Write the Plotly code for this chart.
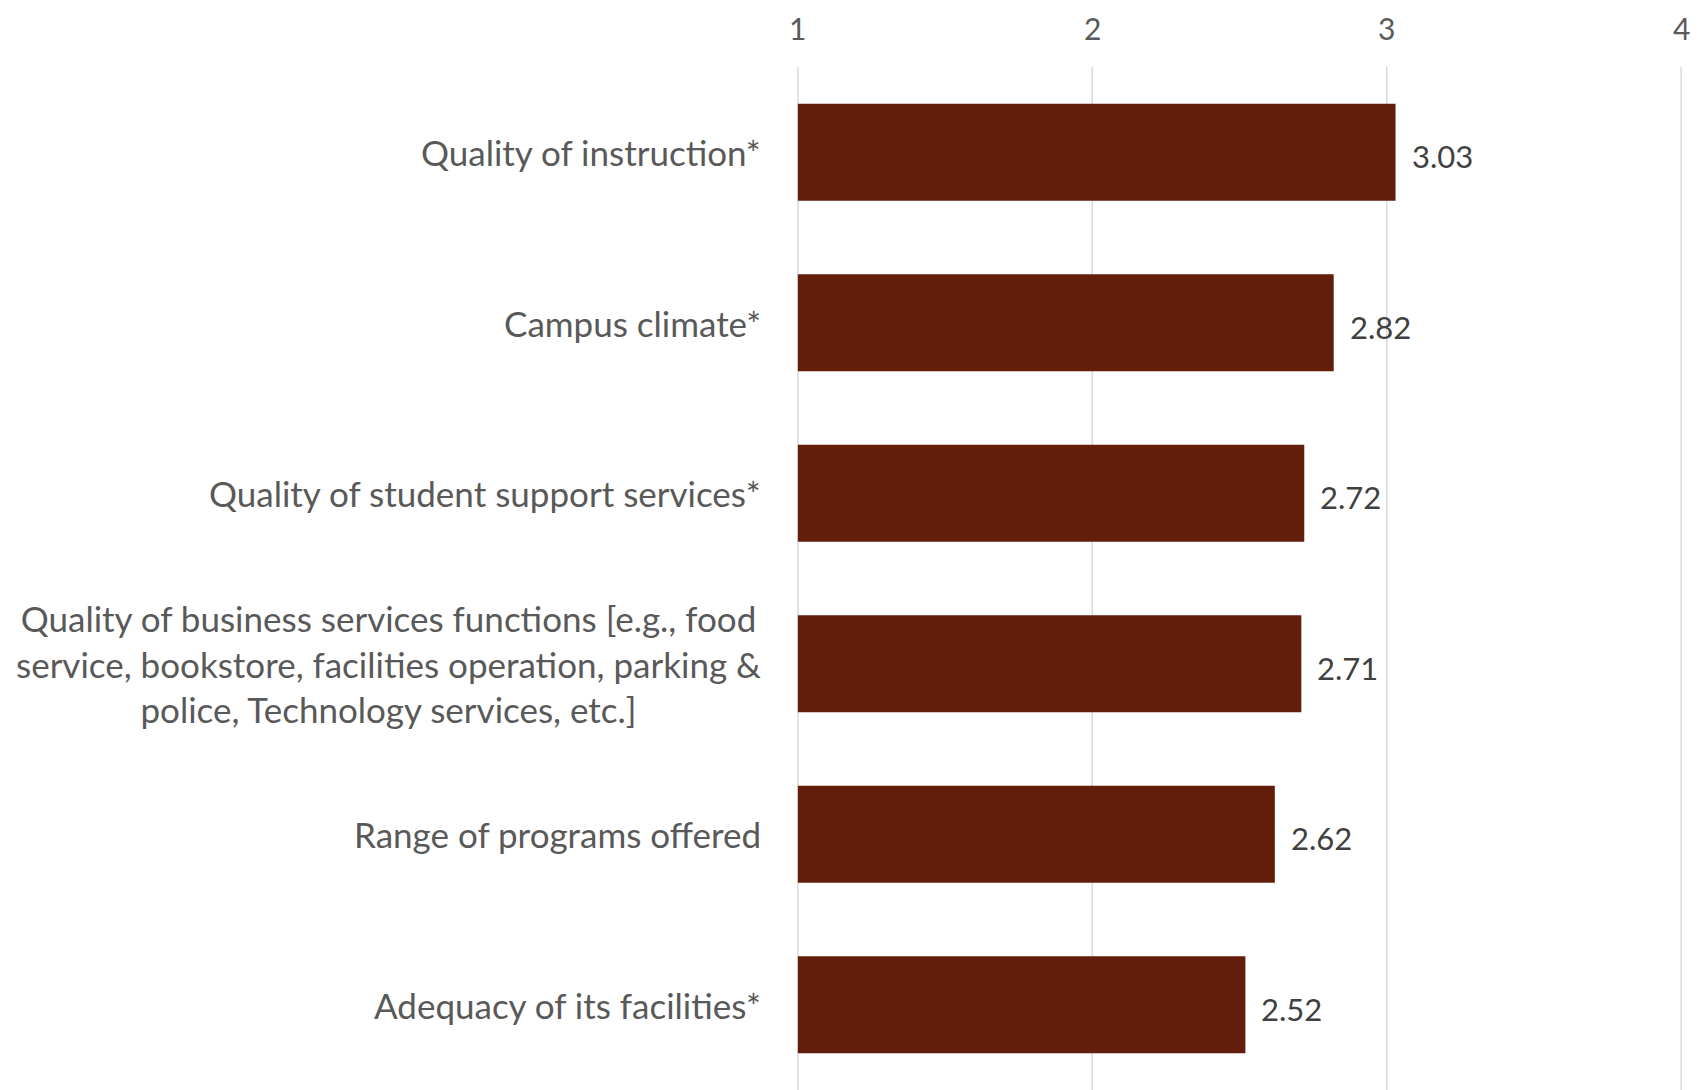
import plotly.graph_objects as go

categories = [
    "Quality of instruction*",
    "Campus climate*",
    "Quality of student support services*",
    "Quality of business services functions [e.g., food<br>service, bookstore, facilities operation, parking &<br>police, Technology services, etc.]",
    "Range of programs offered",
    "Adequacy of its facilities*",
]
values = [3.03, 2.82, 2.72, 2.71, 2.62, 2.52]
value_labels = ["3.03", "2.82", "2.72", "2.71", "2.62", "2.52"]
x_ticks = [1, 2, 3, 4]

BAR = "#631E0B"
FONT = "Lato"
GRID = "#D9D9D9"

fig = go.Figure()
fig.add_trace(go.Bar(
    y=categories, x=[v - 1 for v in values], base=1, orientation="h",
    marker=dict(color=BAR, line=dict(width=0)),
    hoverinfo="skip",
))

annotations = []
for c, v, t in zip(categories, values, value_labels):
    annotations.append(dict(
        x=v, y=c, xref="x", yref="y", text=t, showarrow=False,
        xanchor="left", yanchor="middle", xshift=14, yshift=-4,
        font=dict(family=FONT, size=31, color="#404040"),
    ))
    annotations.append(dict(
        x=0, y=c, xref="paper", yref="y", text=c, showarrow=False,
        xanchor="right", yanchor="middle", xshift=-34, align="center",
        font=dict(family=FONT, size=35, color="#595959"),
    ))
for tv in x_ticks:
    annotations.append(dict(
        x=tv, y=1, xref="x", yref="paper", text=str(tv), showarrow=False,
        xanchor="center", yanchor="bottom", yshift=20, borderpad=0,
        font=dict(family=FONT, size=30, color="#595959"),
    ))

shapes = []
for tv in x_ticks:
    shapes.append(dict(
        type="line", xref="x", yref="paper", x0=tv, x1=tv, y0=0, y1=1,
        line=dict(color=GRID, width=1.5), layer="below",
    ))

fig.update_layout(
    width=1702, height=1090,
    margin=dict(l=789, r=28, t=59, b=8, pad=0),
    paper_bgcolor="white", plot_bgcolor="white",
    showlegend=False,
    bargap=0.43,
    annotations=annotations,
    shapes=shapes,
    xaxis=dict(
        range=[0.997, 4.003], side="top", tickvals=x_ticks,
        showticklabels=False,
        showgrid=False,
        zeroline=False, showline=False, ticks="",
    ),
    yaxis=dict(
        categoryorder="array", categoryarray=categories[::-1],
        showticklabels=False, showgrid=False, zeroline=False,
        showline=False, ticks="",
    ),
)

fig.write_html("out.html")
